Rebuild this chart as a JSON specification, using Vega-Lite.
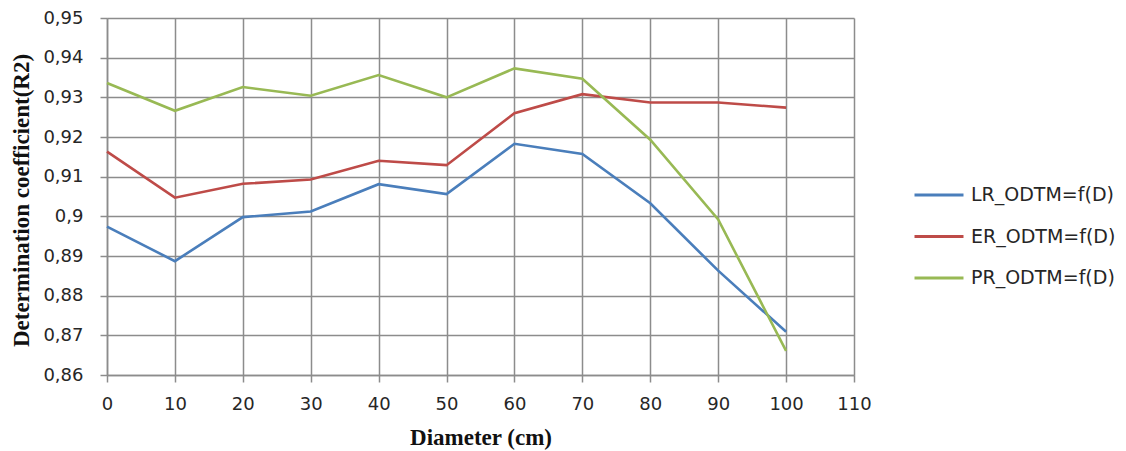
{
  "$schema": "https://vega.github.io/schema/vega-lite/v6.json",
  "width": 747,
  "height": 357,
  "autosize": {"type": "none"},
  "padding": {"left": 107, "top": 18, "right": 272, "bottom": 76},
  "background": "white",
  "config": {
    "view": {"stroke": null},
    "axis": {
      "gridColor": "#8c8c8c",
      "gridWidth": 1.5,
      "gridOpacity": 1,
      "domainColor": "#8c8c8c",
      "domainWidth": 1.5,
      "tickColor": "#8c8c8c",
      "tickWidth": 1.5,
      "tickSize": 7,
      "labelFont": "DejaVu Sans",
      "labelFontSize": 18,
      "labelColor": "#262626",
      "titleFont": "Liberation Serif",
      "titleFontSize": 23,
      "titleFontWeight": "bold",
      "titleColor": "#111111"
    }
  },
  "data": {
    "values": [
      {"D": 0, "series": "LR_ODTM=f(D)", "R2": 0.8974},
      {"D": 10, "series": "LR_ODTM=f(D)", "R2": 0.8887},
      {"D": 20, "series": "LR_ODTM=f(D)", "R2": 0.8998},
      {"D": 30, "series": "LR_ODTM=f(D)", "R2": 0.9012},
      {"D": 40, "series": "LR_ODTM=f(D)", "R2": 0.9081},
      {"D": 50, "series": "LR_ODTM=f(D)", "R2": 0.9056},
      {"D": 60, "series": "LR_ODTM=f(D)", "R2": 0.9183},
      {"D": 70, "series": "LR_ODTM=f(D)", "R2": 0.9157},
      {"D": 80, "series": "LR_ODTM=f(D)", "R2": 0.9033},
      {"D": 90, "series": "LR_ODTM=f(D)", "R2": 0.8863},
      {"D": 100, "series": "LR_ODTM=f(D)", "R2": 0.8709},
      {"D": 0, "series": "ER_ODTM=f(D)", "R2": 0.9163},
      {"D": 10, "series": "ER_ODTM=f(D)", "R2": 0.9047},
      {"D": 20, "series": "ER_ODTM=f(D)", "R2": 0.9082},
      {"D": 30, "series": "ER_ODTM=f(D)", "R2": 0.9093},
      {"D": 40, "series": "ER_ODTM=f(D)", "R2": 0.914},
      {"D": 50, "series": "ER_ODTM=f(D)", "R2": 0.9129},
      {"D": 60, "series": "ER_ODTM=f(D)", "R2": 0.926},
      {"D": 70, "series": "ER_ODTM=f(D)", "R2": 0.9308},
      {"D": 80, "series": "ER_ODTM=f(D)", "R2": 0.9287},
      {"D": 90, "series": "ER_ODTM=f(D)", "R2": 0.9287},
      {"D": 100, "series": "ER_ODTM=f(D)", "R2": 0.9274},
      {"D": 0, "series": "PR_ODTM=f(D)", "R2": 0.9336},
      {"D": 10, "series": "PR_ODTM=f(D)", "R2": 0.9266},
      {"D": 20, "series": "PR_ODTM=f(D)", "R2": 0.9326},
      {"D": 30, "series": "PR_ODTM=f(D)", "R2": 0.9304},
      {"D": 40, "series": "PR_ODTM=f(D)", "R2": 0.9356},
      {"D": 50, "series": "PR_ODTM=f(D)", "R2": 0.93},
      {"D": 60, "series": "PR_ODTM=f(D)", "R2": 0.9373},
      {"D": 70, "series": "PR_ODTM=f(D)", "R2": 0.9347},
      {"D": 80, "series": "PR_ODTM=f(D)", "R2": 0.9193},
      {"D": 90, "series": "PR_ODTM=f(D)", "R2": 0.8992},
      {"D": 100, "series": "PR_ODTM=f(D)", "R2": 0.8661}
    ]
  },
  "mark": {"type": "line", "strokeWidth": 2.6},
  "encoding": {
    "x": {
      "field": "D",
      "type": "quantitative",
      "scale": {"domain": [0, 110], "nice": false, "zero": false},
      "axis": {
        "title": "Diameter (cm)",
        "values": [0, 10, 20, 30, 40, 50, 60, 70, 80, 90, 100, 110],
        "labelPadding": 13,
        "labelFlush": false,
        "titleY": 62,
        "titleBaseline": "middle"
      }
    },
    "y": {
      "field": "R2",
      "type": "quantitative",
      "scale": {"domain": [0.86, 0.95], "nice": false, "zero": false},
      "axis": {
        "title": "Determination coefficient(R2)",
        "values": [0.86, 0.87, 0.88, 0.89, 0.9, 0.91, 0.92, 0.93, 0.94, 0.95],
        "labelExpr": "replace(format(datum.value, '.2~f'), '.', ',')",
        "labelAlign": "right",
        "labelPadding": 17,
        "labelFlush": false,
        "titleX": -86,
        "titleY": 182,
        "titleAlign": "center",
        "titleBaseline": "middle",
        "titleAngle": -90
      }
    },
    "color": {
      "field": "series",
      "type": "nominal",
      "sort": ["LR_ODTM=f(D)", "ER_ODTM=f(D)", "PR_ODTM=f(D)"],
      "scale": {
        "domain": ["LR_ODTM=f(D)", "ER_ODTM=f(D)", "PR_ODTM=f(D)"],
        "range": ["#4a7ebb", "#be4b48", "#98b954"]
      },
      "legend": {
        "title": null,
        "orient": "none",
        "legendX": 806,
        "legendY": 151,
        "symbolType": "stroke",
        "symbolSize": 2400,
        "symbolStrokeWidth": 3,
        "labelFont": "DejaVu Sans",
        "labelFontSize": 19,
        "labelColor": "#262626",
        "labelOffset": 6,
        "rowPadding": 5.5
      }
    }
  }
}
